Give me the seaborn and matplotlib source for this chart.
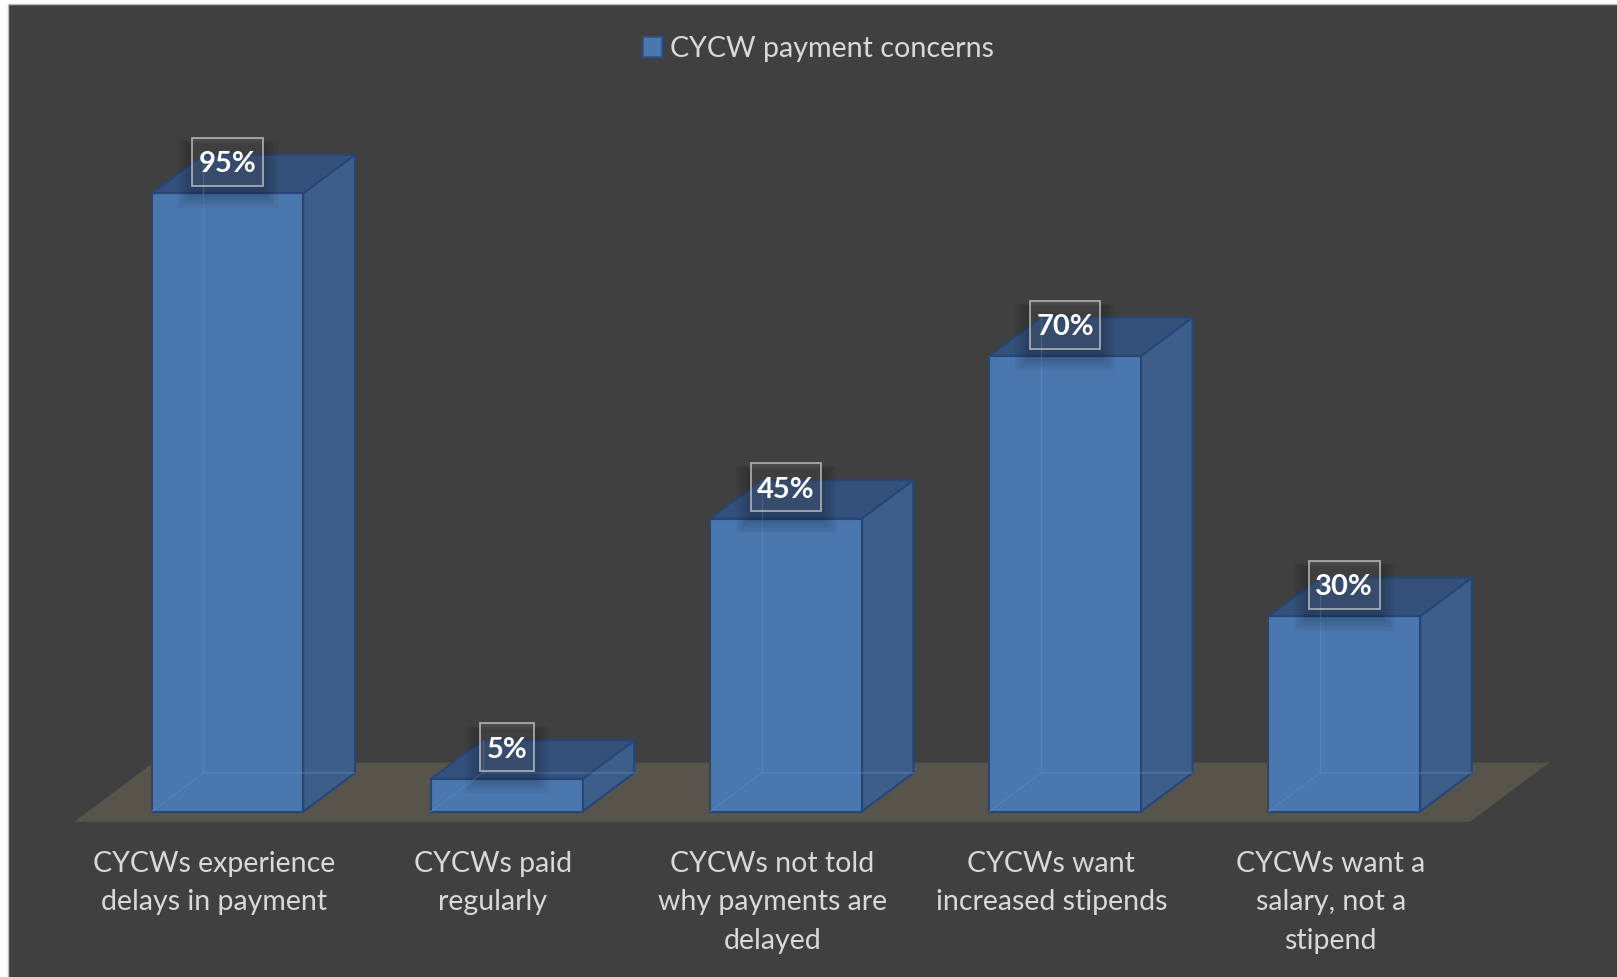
import matplotlib
matplotlib.use("Agg")
import matplotlib.pyplot as plt
from matplotlib.patches import Polygon, Rectangle, Patch
import seaborn as sns
import pandas as pd

# ---- data -------------------------------------------------------------
categories = [
    "CYCWs experience\ndelays in payment",
    "CYCWs paid\nregularly",
    "CYCWs not told\nwhy payments are\ndelayed",
    "CYCWs want\nincreased stipends",
    "CYCWs want a\nsalary, not a\nstipend",
]
values = [95, 5, 45, 70, 30]
value_labels = ["95%", "5%", "45%", "70%", "30%"]
series_name = "CYCW payment concerns"

# ---- style ------------------------------------------------------------
BG = "#404040"
FLOOR = "#57544c"
FRONT = "#4a77ad"
SIDE = "#3d5e88"
TOP = "#34517b"
EDGE = "#274676"
INNER = "#5a8ccc"
TEXT = "#d9d9d9"

W_PX, H_PX, DPI = 1617, 977, 100
PX_TO_PT = 72 / DPI

sns.set_theme(style="white")
plt.rcParams["font.family"] = ["Lato", "DejaVu Sans"]

# pixel geometry of the plotting frame
X0_PX, X_STEP = 227.5, 279.2      # column of category 0, px per category
Y0_PX, Y_STEP = 811.5, 6.507      # row of value 0, px per percentage point

# oblique depth of the floor and the slab of it the bars occupy
FLOOR_DX = 79.0 / X_STEP
FLOOR_DY = 59.0 / Y_STEP
T_FRONT, T_BACK = 0.173, 0.827

# value-label box geometry (pixels)
LBL_RISE = 31.5     # box centre above the bar's front top edge
LBL_H = 48.0        # box height
LBL_PADX = 6.5      # horizontal padding around the text
LBL_CAP = 21.0      # cap height of the label digits


def proj(x, t, h):
    """Project (category x, depth t, height h) onto the 2D data plane."""
    return (x + (t - T_FRONT) * FLOOR_DX, h + (t - T_FRONT) * FLOOR_DY)


def row_to_y(px):
    return (Y0_PX - px) / Y_STEP


fig = plt.figure(figsize=(W_PX / DPI, H_PX / DPI), dpi=DPI, facecolor="white")
fig.patches.append(Rectangle((7.5 / W_PX, -0.01), 1.0, 1.01 - 4 / H_PX,
                             transform=fig.transFigure, facecolor=BG,
                             edgecolor="#bdbdbd", lw=1.0, zorder=-5))

ax = fig.add_axes([0, 0, 1, 1])
ax.set_facecolor("none")

df = pd.DataFrame({"category": categories, "value": values})
sns.barplot(data=df, x="category", y="value", color=FRONT, saturation=1,
            width=0.543, edgecolor=EDGE, linewidth=1.5, errorbar=None, ax=ax)

ax.set_xlim(-X0_PX / X_STEP, (W_PX - X0_PX) / X_STEP)
ax.set_ylim((Y0_PX - H_PX) / Y_STEP, Y0_PX / Y_STEP)
ax.set_axis_off()

n = len(categories)

# floor
floor = [proj(-0.5, 0, 0), proj(n - 0.5, 0, 0), proj(n - 0.5, 1, 0), proj(-0.5, 1, 0)]
ax.add_patch(Polygon(floor, closed=True, facecolor=FLOOR, edgecolor="none", zorder=1))

bars = [b for b in ax.patches if isinstance(b, Rectangle)][:n]

for b in bars:
    b.set_zorder(4)
    x0, w, h = b.get_x(), b.get_width(), b.get_height()
    x1 = x0 + w
    side = [proj(x1, T_FRONT, 0), proj(x1, T_BACK, 0), proj(x1, T_BACK, h), proj(x1, T_FRONT, h)]
    top = [proj(x0, T_FRONT, h), proj(x0, T_BACK, h), proj(x1, T_BACK, h), proj(x1, T_FRONT, h)]
    ax.add_patch(Polygon(side, closed=True, facecolor=SIDE, edgecolor=EDGE, lw=1.5, zorder=3))
    ax.add_patch(Polygon(top, closed=True, facecolor=TOP, edgecolor=EDGE, lw=1.5, zorder=3))
    # hidden back edges seen faintly through the front face
    p0, p1, p2 = proj(x0, T_FRONT, 0), proj(x0, T_BACK, 0), proj(x1, T_BACK, 0)
    p3 = proj(x0, T_BACK, h)
    ax.plot([p0[0], p1[0], p2[0]], [p0[1], p1[1], p2[1]], color=INNER, lw=1.0, alpha=0.5, zorder=5)
    ax.plot([p1[0], p3[0]], [p1[1], p3[1]], color=INNER, lw=1.0, alpha=0.5, zorder=5)

# value labels (text first, boxes sized from the rendered text below)
annots = []
for b, lbl in zip(bars, value_labels):
    cx = b.get_x() + b.get_width() / 2
    a = ax.annotate(lbl, xy=(cx, b.get_height()),
                    xytext=(0, (LBL_RISE - LBL_CAP / 2) * PX_TO_PT),
                    textcoords="offset points", ha="center", va="baseline",
                    fontsize=21, fontweight="bold", color="white", zorder=9)
    annots.append((a, b))

# category labels, one text per line
for i, cat in enumerate(categories):
    cx = proj(i, 0, 0)[0]
    for k, line in enumerate(cat.split("\n")):
        ax.text(cx, row_to_y(871.7 + k * 38.7), line, ha="center", va="baseline",
                fontsize=20.5, color=TEXT, zorder=6)

# legend
fs_leg = 20.6
handles = [Patch(facecolor=FRONT, edgecolor="#2f528f", lw=1.2, label=series_name)]
fig.legend(handles=handles, loc="center", bbox_to_anchor=(818.5 / W_PX, 1 - 49.0 / H_PX),
           frameon=False, fontsize=fs_leg, labelcolor=TEXT, handlelength=0.665,
           handleheight=0.665, handletextpad=0.26, borderpad=0, borderaxespad=0)

# label boxes with a soft drop shadow
fig.canvas.draw()
renderer = fig.canvas.get_renderer()
to_data = ax.transData.inverted()
for a, b in annots:
    tb = a.get_window_extent(renderer)
    cx_px = (tb.x0 + tb.x1) / 2
    front_top = ax.transData.transform((0, b.get_height()))[1]
    cy_px = front_top + LBL_RISE
    half_w = (tb.x1 - tb.x0) / 2 + LBL_PADX
    bx0, bx1 = cx_px - half_w, cx_px + half_w
    by0, by1 = cy_px - LBL_H / 2, cy_px + LBL_H / 2
    # shadow
    for k in range(1, 7):
        grow = 2.5 * k
        xa, ya = to_data.transform((bx0 - grow, by0 - 7 - grow))
        xb, yb = to_data.transform((bx1 + grow, by1 - 7 + grow * 0.3))
        ax.add_patch(Rectangle((xa, ya), xb - xa, yb - ya, facecolor="black",
                               edgecolor="none", alpha=0.035, zorder=7))
    xa, ya = to_data.transform((bx0, by0))
    xb, yb = to_data.transform((bx1, by1))
    ax.add_patch(Rectangle((xa, ya), xb - xa, yb - ya, facecolor=(1, 1, 1, 0.07),
                           edgecolor=(0.8, 0.8, 0.8, 0.75), lw=1.3, zorder=8))

fig.savefig("out.png", dpi=DPI, facecolor=fig.get_facecolor())
